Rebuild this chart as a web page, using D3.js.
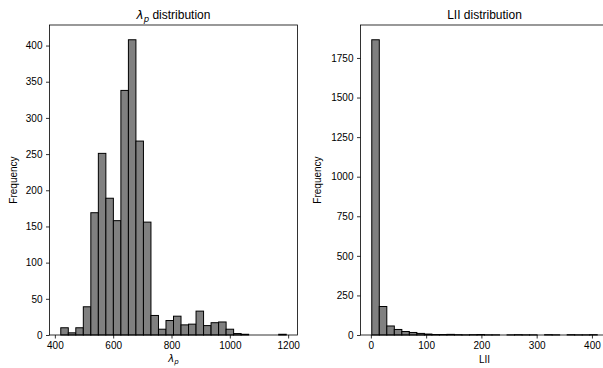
<!DOCTYPE html>
<html>
<head>
<meta charset="utf-8">
<script src="https://d3js.org/d3.v7.min.js"></script>
<style>
  body { margin: 0; background: #fff; }
  text { font-family: "Liberation Sans", Arial, sans-serif; }
</style>
</head>
<body>
<div id="chart"></div>
<script>
// histogram counts (30 bins each)
var lamStart = 420.3, lamWidth = 25.77;
var lamCounts = [10, 3, 10, 39, 169, 251, 189, 158, 338, 408, 268, 156, 27, 8, 20,
                 26, 14, 15, 33, 13, 17, 18, 8, 2, 1, 0, 0, 0, 0, 1];
var lamTicks = [400, 600, 800, 1000, 1200];
var lamYTicks = [0, 50, 100, 150, 200, 250, 300, 350, 400];

var liiStart = 1.6, liiWidth = 13.6;
var liiCounts = [1865, 180, 57, 35, 22, 16, 10, 6, 3, 3, 4, 2, 1, 2, 3,
                 1, 1, 0, 1, 2, 1, 1, 0, 2, 1, 0, 2, 1, 1, 2];
var liiTicks = [0, 100, 200, 300, 400];
var liiYTicks = [0, 250, 500, 750, 1000, 1250, 1500, 1750];

var W = 603, H = 368;
var svg = d3.select("#chart").append("svg")
  .attr("width", W).attr("height", H);

function hist(o) {
  var n = o.counts.length;
  var lo = o.start, hi = o.start + n * o.width, pad = (hi - lo) * 0.05;
  var x = d3.scaleLinear().domain([lo - pad, hi + pad]).range([o.left, o.right]);
  var ymax = d3.max(o.counts) * 1.05;
  var y = d3.scaleLinear().domain([0, ymax]).range([o.bottom, o.top]);

  var g = svg.append("g");

  // bars
  g.selectAll("rect.bar")
    .data(o.counts)
    .enter().append("rect")
      .attr("class", "bar")
      .attr("x", function(d, i) { return x(o.start + i * o.width); })
      .attr("width", function(d, i) { return x(o.start + (i + 1) * o.width) - x(o.start + i * o.width); })
      .attr("y", function(d) { return y(d); })
      .attr("height", function(d) { return o.bottom - y(d); })
      .attr("fill", "#808080")
      .attr("stroke", "#000")
      .attr("stroke-width", 1);

  // axes
  var xa = g.append("g")
    .attr("transform", "translate(0," + o.bottom + ")")
    .call(d3.axisBottom(x).tickValues(o.xticks).tickSize(3.5).tickPadding(3.5).tickFormat(d3.format("d")));
  var ya = g.append("g")
    .attr("transform", "translate(" + o.left + ",0)")
    .call(d3.axisLeft(y).tickValues(o.yticks).tickSize(3.5).tickPadding(3.5).tickFormat(d3.format("d")));
  [xa, ya].forEach(function(a) {
    a.select(".domain").remove();
    a.selectAll("line").attr("stroke", "#000").attr("stroke-width", 0.8);
    a.selectAll("text").style("font-size", "10px").attr("fill", "#000")
      .style("font-family", "'Liberation Sans', Arial, sans-serif");
  });

  // frame
  g.append("rect")
    .attr("x", o.left).attr("y", o.top)
    .attr("width", o.right - o.left).attr("height", o.bottom - o.top)
    .attr("fill", "none").attr("stroke", "#000").attr("stroke-width", 0.8);

  // y label
  g.append("text")
    .attr("transform", "translate(" + o.ylabX + "," + ((o.top + o.bottom) / 2) + ") rotate(-90)")
    .attr("text-anchor", "middle")
    .style("font-size", "10px")
    .text("Frequency");

  return { x: x, y: y, cx: (o.left + o.right) / 2 };
}

var a1 = hist({ counts: lamCounts, start: lamStart, width: lamWidth,
  left: 49.5, right: 297.5, top: 25, bottom: 335,
  xticks: lamTicks, yticks: lamYTicks, ylabX: 17 });

var a2 = hist({ counts: liiCounts, start: liiStart, width: liiWidth,
  left: 360.5, right: 608.5, top: 25, bottom: 335,
  xticks: liiTicks, yticks: liiYTicks, ylabX: 321 });

// titles
var t1 = svg.append("text")
  .attr("x", a1.cx).attr("y", 19)
  .attr("text-anchor", "middle")
  .style("font-size", "12px");
t1.append("tspan").style("font-style", "italic").style("font-family", "'DejaVu Sans', sans-serif").text("λ");
t1.append("tspan").style("font-style", "italic").style("font-size", "8.5px")
  .style("font-family", "'DejaVu Sans', sans-serif").attr("dy", 2.5).text("p");
t1.append("tspan").attr("dy", -2.5).text(" distribution");

svg.append("text")
  .attr("x", a2.cx).attr("y", 19)
  .attr("text-anchor", "middle")
  .style("font-size", "12px")
  .text("LII distribution");

// x labels
var xl = svg.append("text")
  .attr("x", a1.cx).attr("y", 362)
  .attr("text-anchor", "middle")
  .style("font-size", "10px")
  .style("font-family", "'DejaVu Sans', sans-serif")
  .style("font-style", "italic");
xl.append("tspan").text("λ");
xl.append("tspan").attr("dy", 2).style("font-size", "7px").text("p");

svg.append("text")
  .attr("x", a2.cx).attr("y", 363)
  .attr("text-anchor", "middle")
  .style("font-size", "10px")
  .text("LII");
</script>
</body>
</html>
